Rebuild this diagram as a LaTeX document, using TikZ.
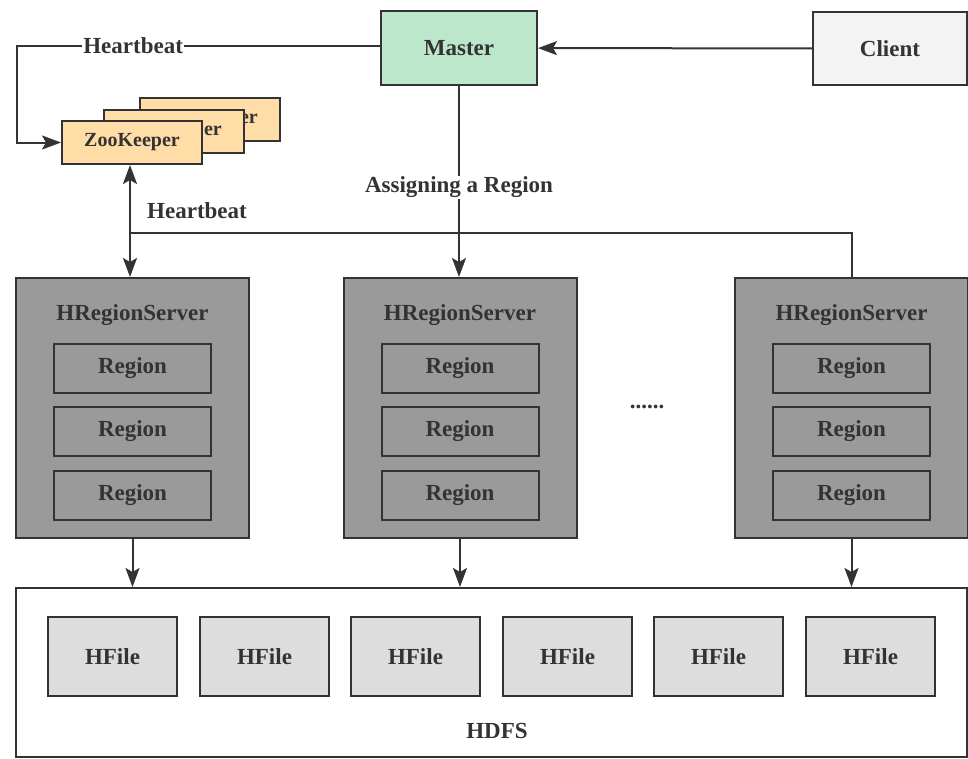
\documentclass[tikz,border=0pt]{standalone}
\usepackage{fontspec}
\setmainfont{Liberation Serif}[BoldFont={Liberation Serif Bold}]
\usetikzlibrary{arrows.meta}

\definecolor{linegray}{HTML}{333333}
\definecolor{mastergreen}{HTML}{BCE7CA}
\definecolor{clientgray}{HTML}{F3F3F3}
\definecolor{zkorange}{HTML}{FFDDA6}
\definecolor{servergray}{HTML}{9A9A9A}
\definecolor{filegray}{HTML}{DDDDDD}

\tikzset{
  box/.style={draw=linegray, line width=2pt, inner sep=0pt, text=linegray,
    font=\fontsize{23}{27}\selectfont\bfseries},
  zkbox/.style={box, fill=zkorange, minimum width=140pt, minimum height=43pt,
    font=\fontsize{20}{24}\selectfont\bfseries},
  serverbox/.style={box, fill=servergray, minimum width=233pt, minimum height=260pt},
  regionbox/.style={box, fill=servergray, minimum width=157pt, minimum height=49pt},
  filebox/.style={box, fill=filegray, minimum width=129pt, minimum height=79pt},
  txt/.style={text=linegray, inner sep=1pt, font=\fontsize{23}{27}\selectfont\bfseries},
  tip/.tip={Stealth[length=19pt,width=14pt,inset=4pt]},
  arr/.style={draw=linegray, line width=2pt, -tip},
  link/.style={draw=linegray, line width=2pt},
}

\begin{document}
\begin{tikzpicture}[x=1pt, y=-1pt]
  \useasboundingbox (0,0) rectangle (968,758);

  % top row
  \node[box, fill=mastergreen, minimum width=156pt, minimum height=74pt] (master) at (459,48) {Master};
  \node[box, fill=clientgray, minimum width=154pt, minimum height=73pt] (client) at (890,48.5) {Client};

  % zookeeper stack, back to front
  \node[zkbox] (zk3) at (210,119.5) {ZooKeeper};
  \node[zkbox] (zk2) at (174,131.5) {ZooKeeper};
  \node[zkbox] (zk1) at (132,142.5) {ZooKeeper};

  % region servers
  \foreach \i/\x in {1/132.5, 2/460, 3/851.5} {
    \node[serverbox] (srv\i) at (\x,408) {};
    \node[txt] (title\i) at (\x,315) {HRegionServer};
    \foreach \j/\y in {1/368.5, 2/431.5, 3/495.5}
      \node[regionbox] (reg\i\j) at (\x,\y) {Region};
  }
  \node[txt] (dots) at (647,407) {......};

  % hdfs
  \node[box, fill=white, minimum width=951pt, minimum height=169pt] (hdfs) at (491.5,672.5) {};
  \foreach \k/\x in {1/112.5, 2/264.5, 3/415.5, 4/567.5, 5/718.5, 6/870.5}
    \node[filebox] (file\k) at (\x,656.5) {HFile};
  \node[txt] (hdfslabel) at (497,731) {HDFS};

  % connectors
  \coordinate (hbturn) at (17,46);
  \coordinate (hbjoin) at (130,233);
  \draw[arr] (client) -- (master);
  \draw[arr] (master.west |- hbturn) -- node[txt, fill=white, pos=0.68] {Heartbeat} (hbturn) |- (zk1.west);
  \draw[arr, tip-tip] (zk1.south -| hbjoin) -- (hbjoin |- srv1.north);
  \draw[link] (hbjoin) -| (srv3.north);
  \node[txt] (hblabel) at (197,211) {Heartbeat};
  \draw[arr] (master.south) -- node[txt, fill=white, pos=0.53] {Assigning a Region} (master.south |- srv2.north);
  \draw[arr] (srv1.south) -- (srv1.south |- hdfs.north);
  \draw[arr] (srv2.south) -- (srv2.south |- hdfs.north);
  \draw[arr] (srv3.south) -- (srv3.south |- hdfs.north);
\end{tikzpicture}
\end{document}
